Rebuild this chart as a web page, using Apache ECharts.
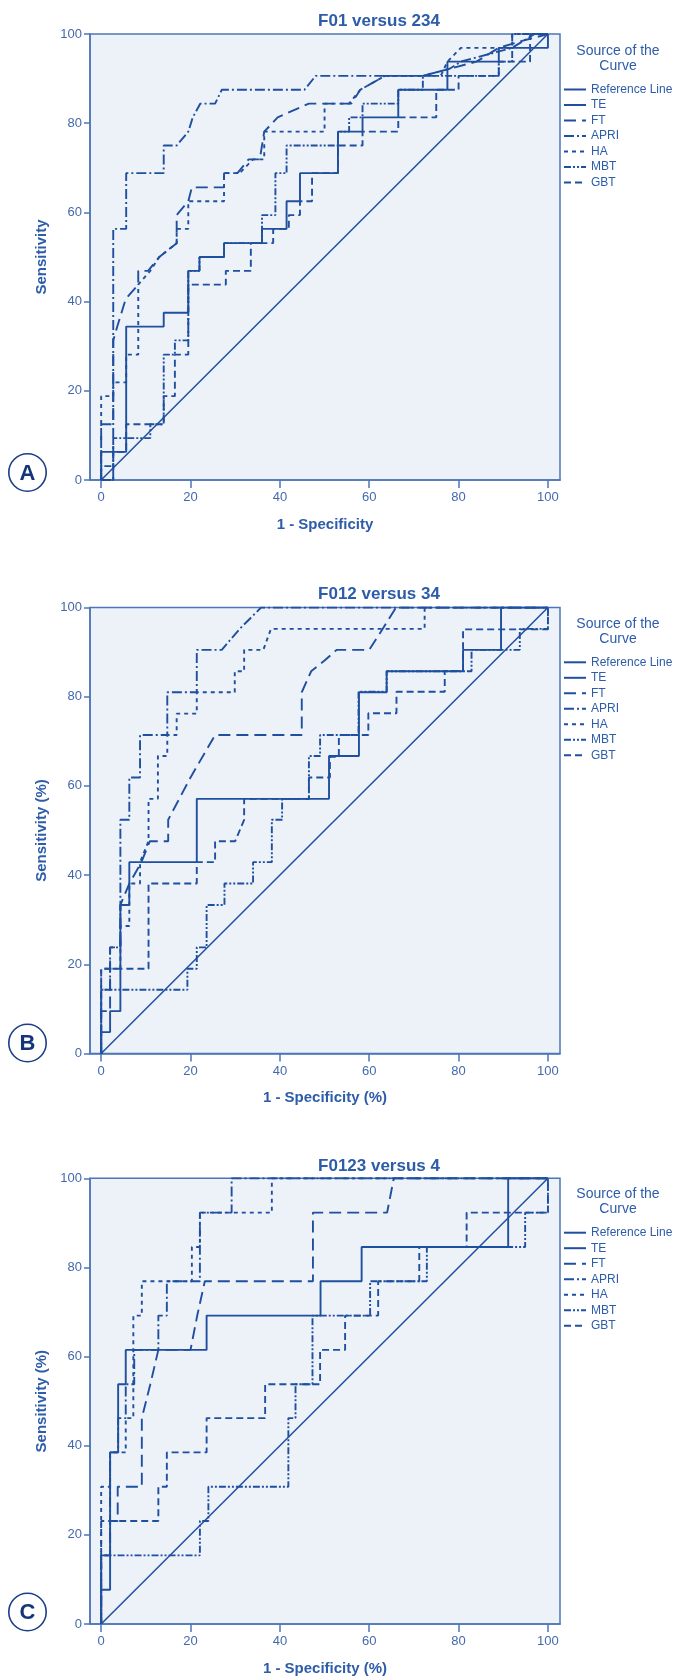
<!DOCTYPE html>
<html>
<head>
<meta charset="utf-8">
<script src="https://cdn.jsdelivr.net/npm/echarts@6/dist/echarts.min.js"></script>
<style>
  html, body { margin: 0; padding: 0; background: #fff; }
  #roc { width: 675px; height: 1677px; }
</style>
</head>
<body>
<div id="roc"></div>
<script>
// ROC curves, three panels
var curveNames = ['Reference Line', 'TE', 'FT', 'APRI', 'HA', 'MBT', 'GBT']
var xTicks = [0, 20, 40, 60, 80, 100]
var panelTitles = ['F01 versus 234', 'F012 versus 34', 'F0123 versus 4']
var xNames = ['1 - Specificity', '1 - Specificity (%)', '1 - Specificity (%)']
var yNames = ['Sensitivity', 'Sensitivity (%)', 'Sensitivity (%)']
var panelLetters = ['A', 'B', 'C']

var refLine = [[0, 0], [100, 100]]

// panel A
var aTE = [[0, 0], [0, 6.3], [5.6, 6.3], [5.6, 34.4], [14, 34.4], [14, 37.5], [19.5, 37.5], [19.5, 46.9], [22, 46.9], [22, 50], [27.5, 50], [27.5, 53.1], [36, 53.1], [36, 56.3], [41.5, 56.3], [41.5, 62.5], [44.5, 62.5], [44.5, 68.8], [53, 68.8], [53, 78.1], [58.5, 78.1], [58.5, 81.3], [66.5, 81.3], [66.5, 87.5], [77.5, 87.5], [77.5, 93.8], [89, 93.8], [89, 96.9], [100, 96.9], [100, 100]]
var aFT = [[0, 0], [0, 12.5], [2.7, 12.5], [2.7, 31.3], [3.6, 34.4], [5.5, 40.6], [8.3, 43.8], [8.3, 46.9], [10.5, 46.9], [13, 50], [16.9, 53.1], [16.9, 59.4], [19.5, 62.5], [20.3, 65.6], [27.5, 65.6], [27.5, 68.8], [30.5, 68.8], [33, 71.9], [35.5, 71.9], [36.5, 78.1], [39.5, 81.3], [46.5, 84.4], [56, 84.4], [58, 87.5], [63.5, 90.6], [72, 90.6], [78, 92.2], [84, 93.8], [89, 96.9], [94, 98.4], [100, 100]]
var aAPRI = [[0, 0], [2.7, 0], [2.7, 56.3], [5.6, 56.3], [5.6, 68.8], [14, 68.8], [14, 75], [16.9, 75], [19.5, 78.1], [20.5, 81.3], [22.2, 84.4], [25.5, 84.4], [27, 87.5], [45.5, 87.5], [48, 90.6], [72, 90.6], [78, 92.2], [80.5, 93.8], [92, 96.9], [97, 100], [100, 100]]
var aHA = [[0, 0], [0, 18.8], [2.7, 18.8], [2.7, 21.9], [5.6, 21.9], [5.6, 28.1], [8.3, 28.1], [8.3, 43.8], [11, 46.9], [13, 50], [16.9, 53.1], [16.9, 56.3], [19.5, 56.3], [19.5, 62.5], [27.5, 62.5], [27.5, 68.8], [31, 68.8], [34, 71.9], [36.5, 71.9], [36.5, 78.1], [50, 78.1], [50, 84.4], [55.5, 84.4], [58, 87.5], [63.5, 90.6], [76, 90.6], [77.5, 93.8], [80.5, 96.9], [92, 96.9], [92, 100], [100, 100]]
var aMBT = [[0, 0], [0, 3.1], [2.7, 3.1], [2.7, 9.4], [11, 9.4], [11, 12.5], [14, 12.5], [14, 28.1], [16.5, 28.1], [16.5, 31.3], [19.5, 31.3], [19.5, 46.9], [22, 46.9], [22, 50], [27.5, 50], [27.5, 53.1], [36, 53.1], [36, 59.4], [39, 59.4], [39, 68.8], [41.5, 68.8], [41.5, 75], [53, 75], [53, 78.1], [55.5, 78.1], [55.5, 81.3], [58.5, 81.3], [58.5, 84.4], [66.5, 84.4], [66.5, 87.5], [72, 87.5], [72, 90.6], [89, 90.6], [89, 93.8], [92, 93.8], [92, 100], [100, 100]]
var aGBT = [[0, 0], [2.7, 0], [2.7, 6.3], [5.6, 6.3], [5.6, 12.5], [14, 12.5], [14, 18.8], [16.5, 18.8], [16.5, 28.1], [19.5, 28.1], [19.5, 43.8], [27.9, 43.8], [27.9, 46.9], [33.5, 46.9], [33.5, 53.1], [38.5, 53.1], [38.5, 56.3], [42, 56.3], [42, 59.4], [44.5, 59.4], [44.5, 62.5], [47.2, 62.5], [47.2, 68.8], [53, 68.8], [53, 75], [58.5, 75], [58.5, 78.1], [66.5, 78.1], [66.5, 81.3], [75, 81.3], [75, 87.5], [80, 87.5], [80, 90.6], [89, 90.6], [89, 93.8], [96, 93.8], [96, 100], [100, 100]]

// panel B
var bTE = [[0, 0], [0, 4.8], [2, 4.8], [2, 9.5], [4.3, 9.5], [4.3, 33.3], [6.3, 33.3], [6.3, 42.9], [21.4, 42.9], [21.4, 57.1], [51, 57.1], [51, 66.7], [57.7, 66.7], [57.7, 81], [63.9, 81], [63.9, 85.7], [81, 85.7], [81, 90.5], [89.5, 90.5], [89.5, 100], [100, 100]]
var bFT = [[0, 0], [0, 9.5], [2, 9.5], [2, 23.8], [4.3, 23.8], [4.3, 33.3], [6.3, 38.1], [9, 42.9], [10.9, 47.6], [15, 47.6], [15, 52.4], [20, 61.9], [25.5, 71.4], [44.9, 71.4], [44.9, 81], [47, 85.7], [50, 88.1], [52.7, 90.5], [60, 90.5], [63, 95.2], [66, 100], [100, 100]]
var bAPRI = [[0, 0], [0, 14.3], [2, 14.3], [2, 23.8], [4.3, 23.8], [4.3, 52.4], [6.3, 52.4], [6.3, 61.9], [8.7, 61.9], [8.7, 71.4], [14.8, 71.4], [14.8, 81], [21.4, 81], [21.4, 90.5], [27, 90.5], [31, 95.2], [35.8, 100], [100, 100]]
var bHA = [[0, 0], [0, 19], [4.3, 19], [4.3, 28.6], [6.3, 28.6], [6.3, 38.1], [8.7, 38.1], [8.7, 42.9], [10.6, 47.6], [10.6, 57.1], [12.7, 57.1], [12.7, 66.7], [14.8, 66.7], [14.8, 71.4], [16.9, 71.4], [16.9, 76.2], [21.4, 76.2], [21.4, 81], [29.9, 81], [29.9, 85.7], [32, 85.7], [32, 90.5], [36.3, 90.5], [38, 95.2], [72.4, 95.2], [72.4, 100], [100, 100]]
var bMBT = [[0, 0], [0, 14.3], [19.3, 14.3], [19.3, 19], [21.4, 19], [21.4, 23.8], [23.6, 23.8], [23.6, 33.3], [27.6, 33.3], [27.6, 38.1], [34, 38.1], [34, 42.9], [38.2, 42.9], [38.2, 52.4], [40.5, 52.4], [40.5, 57.1], [46.5, 57.1], [46.5, 66.7], [49, 66.7], [49, 71.4], [57.6, 71.4], [57.6, 81.1], [63.9, 81.1], [63.9, 85.7], [82.9, 85.7], [82.9, 90.5], [93.7, 90.5], [93.7, 95.2], [100, 95.2], [100, 100]]
var bGBT = [[0, 0], [0, 19], [10.6, 19], [10.6, 38.1], [21.4, 38.1], [21.4, 42.9], [25.5, 42.9], [25.5, 47.6], [30, 47.6], [32, 52.4], [32, 57.1], [46.5, 57.1], [46.5, 61.9], [51.2, 61.9], [51.2, 66.5], [53.2, 66.5], [53.2, 71.4], [59.8, 71.4], [59.8, 76.3], [66.1, 76.3], [66.1, 81.1], [76.9, 81.1], [76.9, 85.8], [81, 85.8], [81, 95.1], [100, 95.1], [100, 100]]

// panel C
var cTE = [[0, 0], [0, 7.7], [2, 7.7], [2, 38.5], [3.8, 38.5], [3.8, 53.8], [5.5, 53.8], [5.5, 61.5], [23.6, 61.5], [23.6, 69.2], [49.1, 69.2], [49.1, 76.9], [58.3, 76.9], [58.3, 84.6], [91.1, 84.6], [91.1, 100], [100, 100]]
var cFT = [[0, 0], [0, 15.4], [2, 15.4], [2, 23.1], [3.7, 23.1], [3.7, 30.8], [9.1, 30.8], [9.1, 46.2], [11, 53.8], [12.8, 61.5], [20, 61.5], [21.5, 69.2], [23.2, 76.9], [47.4, 76.9], [47.4, 92.3], [64, 92.3], [65.5, 100], [100, 100]]
var cAPRI = [[0, 0], [0, 15.4], [2, 15.4], [2, 38.5], [3.8, 38.5], [3.8, 46.2], [5.5, 46.2], [5.5, 53.8], [7.4, 53.8], [7.4, 61.5], [12.8, 61.5], [12.8, 69.2], [14.7, 69.2], [14.7, 76.9], [22.1, 76.9], [22.1, 92.3], [29.2, 92.3], [29.2, 100], [100, 100]]
var cHA = [[0, 0], [0, 30.8], [2, 30.8], [2, 38.5], [5.5, 38.5], [5.5, 46.2], [7.2, 46.2], [7.2, 69.2], [9.1, 69.2], [9.1, 76.9], [20.3, 76.9], [20.3, 84.6], [22.1, 84.6], [22.1, 92.3], [38.2, 92.3], [38.2, 100], [100, 100]]
var cMBT = [[0, 0], [0, 15.4], [22.1, 15.4], [22.1, 23.1], [24, 23.1], [24, 30.8], [41.9, 30.8], [41.9, 46.2], [43.5, 46.2], [43.5, 53.8], [47.3, 53.8], [47.3, 69.2], [60.2, 69.2], [60.2, 76.9], [72.9, 76.9], [72.9, 84.6], [94.9, 84.6], [94.9, 92.3], [100, 92.3], [100, 100]]
var cGBT = [[0, 0], [0, 23.1], [12.8, 23.1], [12.8, 30.8], [14.7, 30.8], [14.7, 38.5], [23.6, 38.5], [23.6, 46.2], [36.7, 46.2], [36.7, 53.8], [49, 53.8], [49, 61.5], [54.6, 61.5], [54.6, 69.2], [62, 69.2], [62, 76.9], [71.2, 76.9], [71.2, 84.6], [81.8, 84.6], [81.8, 92.3], [100, 92.3], [100, 100]]

var panelCurves = [
  [refLine, aTE, aFT, aAPRI, aHA, aMBT, aGBT],
  [refLine, bTE, bFT, bAPRI, bHA, bMBT, bGBT],
  [refLine, cTE, cFT, cAPRI, cHA, cMBT, cGBT]
]

var lineColor = '#1f4f9f'
var textColor = '#2d5ca9'
var frameColor = '#4e75b8'
var dashes = {
  'Reference Line': 'solid',
  TE: 'solid',
  FT: [12, 6],
  APRI: [10, 3, 2, 3],
  HA: [4, 4],
  MBT: [7, 2, 2, 2, 2, 2],
  GBT: [7, 4]
}

// pixel layout of the three panels
var gridTops = [34, 607.5, 1178.3]
var plotH = 446
var titleY = [21.4, 594.4, 1166.3]
var legendHeadY = [50.6, 623.7, 1193.8]
var legendTop = [82.5, 655.3, 1225.7]
var letterY = [472.5, 1043, 1612]

var chart = echarts.init(document.getElementById('roc'))

var grids = []
var xAxes = []
var yAxes = []
var series = []
var legends = []
var graphics = []

for (var p = 0; p < 3; p++) {
  grids.push({
    left: 90, top: gridTops[p], width: 470, height: plotH,
    show: true, backgroundColor: '#edf1f8',
    borderColor: frameColor, borderWidth: 1.5
  })
  xAxes.push({
    gridIndex: p, type: 'value', min: -2.5, max: 102.7,
    name: xNames[p], nameLocation: 'middle', nameGap: 37,
    nameTextStyle: { color: textColor, fontSize: 15, fontWeight: 'bold', fontFamily: 'Liberation Sans' },
    axisLine: { show: true, onZero: false, lineStyle: { color: frameColor, width: 1.5 } },
    axisTick: { show: true, length: 8, customValues: xTicks, lineStyle: { color: frameColor, width: 1.5 } },
    axisLabel: { customValues: xTicks, margin: 11, color: '#4369ad', fontSize: 13, fontFamily: 'Liberation Sans Narrow, Liberation Sans' },
    splitLine: { show: false }
  })
  yAxes.push({
    gridIndex: p, type: 'value', min: 0, max: 100, interval: 20,
    name: yNames[p], nameLocation: 'middle', nameGap: 33, nameRotate: 90,
    nameTextStyle: { color: textColor, fontSize: 15, fontWeight: 'bold', fontFamily: 'Liberation Sans' },
    axisLine: { show: true, onZero: false, lineStyle: { color: frameColor, width: 1.5 } },
    axisTick: { show: true, length: 6, lineStyle: { color: frameColor, width: 1.5 } },
    axisLabel: { margin: 8, color: '#4369ad', fontSize: 13, fontFamily: 'Liberation Sans Narrow, Liberation Sans' },
    splitLine: { show: false }
  })
  for (var k = 0; k < curveNames.length; k++) {
    series.push({
      name: curveNames[k], type: 'line', xAxisIndex: p, yAxisIndex: p,
      data: panelCurves[p][k], symbol: 'none', silent: true,
      lineStyle: { color: lineColor, width: k === 0 ? 1.5 : 1.9, type: dashes[curveNames[k]] },
      itemStyle: { color: lineColor },
      z: 3
    })
  }
  legends.push({
    data: curveNames, orient: 'vertical', left: 563, top: legendTop[p],
    padding: 0, itemWidth: 22, itemHeight: 8, itemGap: 1.5,
    selectedMode: false,
    itemStyle: { opacity: 0 },
    lineStyle: { width: 2 },
    textStyle: { color: textColor, fontSize: 12, lineHeight: 14, fontFamily: 'Liberation Sans' }
  })
  graphics.push({
    type: 'text', x: 379, y: titleY[p],
    style: { text: panelTitles[p], fill: textColor, fontSize: 17, fontWeight: 'bold', fontFamily: 'Liberation Sans', align: 'center', verticalAlign: 'middle' }
  })
  graphics.push({
    type: 'text', x: 618, y: legendHeadY[p] - 7,
    style: { text: 'Source of the\nCurve', fill: textColor, fontSize: 14, lineHeight: 15, fontFamily: 'Liberation Sans', align: 'center', verticalAlign: 'top' }
  })
  graphics.push({
    type: 'circle', shape: { cx: 27.5, cy: letterY[p], r: 18.7 },
    style: { fill: '#fff', stroke: '#1b3f86', lineWidth: 1.6 }
  })
  graphics.push({
    type: 'text', x: 27.5, y: letterY[p] + 1,
    style: { text: panelLetters[p], fill: '#15357a', fontSize: 22, fontWeight: 'bold', fontFamily: 'Liberation Sans', align: 'center', verticalAlign: 'middle' }
  })
}

chart.setOption({
  animation: false,
  backgroundColor: '#fff',
  grid: grids,
  xAxis: xAxes,
  yAxis: yAxes,
  legend: legends,
  series: series,
  graphic: graphics
})
</script>
</body>
</html>
